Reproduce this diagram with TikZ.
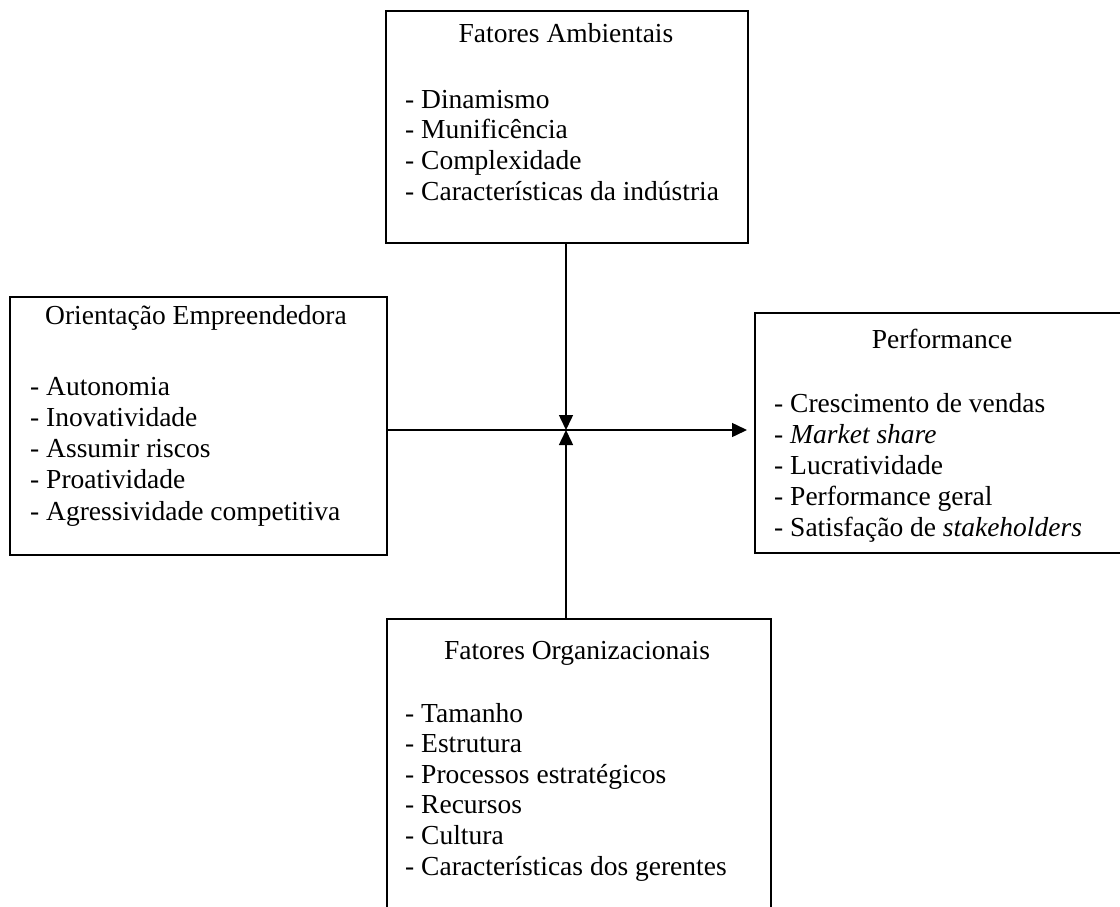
\documentclass[tikz,border=0pt]{standalone}
\usepackage{fontspec}
\setmainfont{Liberation Serif}
\usetikzlibrary{arrows.meta}

\begin{document}
\begin{tikzpicture}[x=1pt,y=-1pt]
    \tikzstyle{caixa}=[rectangle, draw, line width=2pt, inner sep=0pt, anchor=north west]
    \tikzstyle{titulo}=[anchor=base, inner sep=0pt, font=\fontsize{27.5}{31}\selectfont]
    \tikzstyle{item}=[anchor=base west, inner sep=0pt, font=\fontsize{27.5}{31}\selectfont]
    \tikzstyle{seta}=[line width=1.5pt, -{Triangle[length=15pt,width=14pt]}]

    \clip (0,0) rectangle (1120,907);

    % caixas
    \node[caixa, minimum width=362pt, minimum height=232pt] (amb) at (385,10) {};
    \node[caixa, minimum width=377pt, minimum height=258pt] (oe) at (9,296) {};
    \node[caixa, minimum width=376pt, minimum height=240pt] (perf) at (754,312) {};
    \node[caixa, minimum width=384pt, minimum height=320pt] (org) at (386,618) {};

    % titulos
    \node[titulo] (amb-t) at (566,43) {Fatores Ambientais};
    \node[titulo] (oe-t) at (196,324) {Orientação Empreendedora};
    \node[titulo] (perf-t) at (942,348) {Performance};
    \node[titulo] (org-t) at (577,659) {Fatores Organizacionais};

    % itens
    \foreach \t [count=\i] in {Dinamismo, Munificência, Complexidade, Características da indústria}
        \node[item] (amb-\i) at (405,{108+30.8*(\i-1)}) {- \t};
    \foreach \t [count=\i] in {Autonomia, Inovatividade, Assumir riscos, Proatividade, Agressividade competitiva}
        \node[item] (oe-\i) at (30,{395+31.3*(\i-1)}) {- \t};
    \foreach \t [count=\i] in {Crescimento de vendas, \textit{Market share}, Lucratividade, Performance geral, Satisfação de \textit{stakeholders}}
        \node[item] (perf-\i) at (774,{412+31.2*(\i-1)}) {- \t};
    \foreach \t [count=\i] in {Tamanho, Estrutura, Processos estratégicos, Recursos, Cultura, Características dos gerentes}
        \node[item] (org-\i) at (405,{722+30.6*(\i-1)}) {- \t};

    % setas
    \coordinate (meio) at (566,430);
    \draw[seta] (meio |- amb.south) -- (meio);
    \draw[seta] (meio |- org.north) -- (meio);
    \draw[seta, shorten >=7pt] (oe.east |- meio) -- (perf.west |- meio);
\end{tikzpicture}
\end{document}
